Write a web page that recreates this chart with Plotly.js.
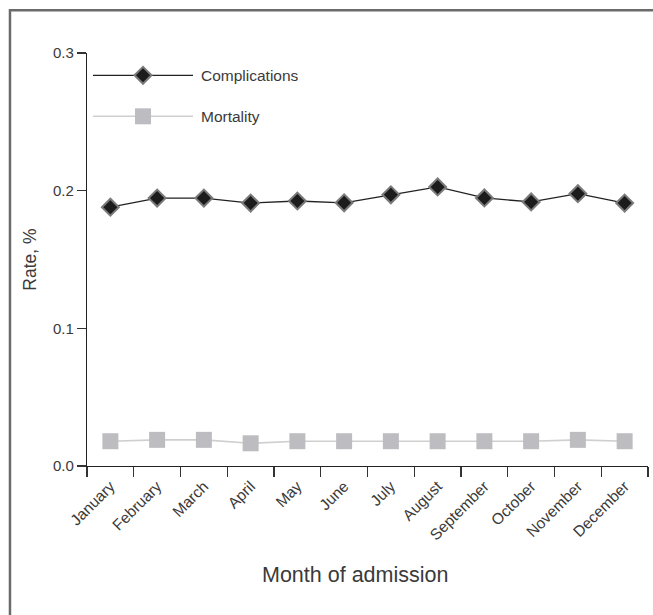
<!DOCTYPE html>
<html>
<head>
<meta charset="utf-8">
<script src="https://cdn.plot.ly/plotly-3.0.1.min.js"></script>
<style>
html,body{margin:0;padding:0;background:#fff;}
#chart{width:653px;height:615px;}
</style>
</head>
<body>
<div id="chart"></div>
<script>
// Data
const months = ["January","February","March","April","May","June","July","August","September","October","November","December"];
const complications = [0.188, 0.1946, 0.1946, 0.191, 0.1925, 0.1912, 0.197, 0.2027, 0.1947, 0.1918, 0.1978, 0.191];
const mortality = [0.018, 0.019, 0.019, 0.0165, 0.018, 0.018, 0.018, 0.018, 0.018, 0.018, 0.019, 0.018];
const seriesNames = ["Complications", "Mortality"];
const yTicks = [0, 0.1, 0.2, 0.3];

const FONT = "Liberation Sans, Arial, sans-serif";
const TXT = "#3a3a3a";

const compStyle = {line: {color: "#222222", width: 1.3}, marker: {symbol: "diamond", size: 13, color: "#1c1c1c", line: {color: "#7a7a7a", width: 2}}};
const mortStyle = {line: {color: "#cfcfcf", width: 1.6}, marker: {symbol: "square", size: 16, color: "#bdbdc1", line: {width: 0}}};

const traces = [
  Object.assign({type: "scatter", mode: "lines+markers", x: months, y: complications, name: seriesNames[0], showlegend: false, hoverinfo: "x+y"}, compStyle),
  Object.assign({type: "scatter", mode: "lines+markers", x: months, y: mortality, name: seriesNames[1], showlegend: false, hoverinfo: "x+y"}, mortStyle),
  // legend symbols (drawn on hidden overlay axes)
  {type: "scatter", mode: "markers", x: [0.0998], y: [0.946], xaxis: "x2", yaxis: "y2", showlegend: false, hoverinfo: "skip", marker: compStyle.marker},
  {type: "scatter", mode: "markers", x: [0.0998], y: [0.8467], xaxis: "x2", yaxis: "y2", showlegend: false, hoverinfo: "skip", marker: mortStyle.marker}
];

const layout = {
  width: 653, height: 615,
  margin: {l: 87, r: 5, t: 53, b: 149},
  paper_bgcolor: "#ffffff", plot_bgcolor: "rgba(0,0,0,0)",
  font: {family: FONT, color: TXT, size: 14},
  showlegend: false,
  xaxis: {
    type: "category", range: [-0.5, 11.5],
    showline: true, linecolor: "#222", linewidth: 1.2,
    ticks: "outside", ticklen: 10, tickcolor: "#333", tickwidth: 1.2,
    tickson: "boundaries", tickangle: -45, ticklabelstandoff: 4,
    tickfont: {family: FONT, size: 15.5, color: TXT},
    showgrid: false, zeroline: false, fixedrange: true
  },
  yaxis: {
    range: [0, 0.3], tickvals: yTicks, tickformat: ".1f",
    showline: true, linecolor: "#222", linewidth: 1.2,
    ticks: "outside", ticklen: 9, tickcolor: "#333", tickwidth: 1.2,
    tickfont: {family: FONT, size: 15, color: TXT},
    showgrid: false, zeroline: false, fixedrange: true,
    title: {text: "Rate, %", font: {family: FONT, size: 17.5, color: TXT}, standoff: 11}
  },
  xaxis2: {overlaying: "x", anchor: "y2", range: [0, 1], visible: false, fixedrange: true},
  yaxis2: {overlaying: "y", anchor: "x2", range: [0, 1], visible: false, fixedrange: true},
  shapes: [
    // outer frame (top and left edges)
    {type: "path", xref: "paper", yref: "paper", path: "M -0.1373,-0.40 L -0.1373,1.1034 L 1.03,1.1034", line: {color: "#6b6b6b", width: 2.5}},
    // legend lines
    {type: "line", xref: "paper", yref: "paper", x0: 0.0107, x1: 0.189, y0: 0.946, y1: 0.946, line: {color: compStyle.line.color, width: 1.3}, layer: "below"},
    {type: "line", xref: "paper", yref: "paper", x0: 0.0107, x1: 0.189, y0: 0.8467, y1: 0.8467, line: {color: mortStyle.line.color, width: 1.6}, layer: "below"}
  ],
  annotations: [
    {xref: "paper", yref: "paper", x: 0.2, y: 0.946, xanchor: "left", yanchor: "middle", text: seriesNames[0], showarrow: false, font: {family: FONT, size: 15.5, color: TXT}},
    {xref: "paper", yref: "paper", x: 0.2, y: 0.8467, xanchor: "left", yanchor: "middle", text: seriesNames[1], showarrow: false, font: {family: FONT, size: 15.5, color: TXT}},
    {xref: "paper", yref: "paper", x: 0.478, y: -0.265, xanchor: "center", yanchor: "middle", text: "Month of admission", showarrow: false, font: {family: FONT, size: 21.5, color: TXT}}
  ]
};

Plotly.newPlot("chart", traces, layout, {displayModeBar: false, staticPlot: true});
</script>
</body>
</html>
